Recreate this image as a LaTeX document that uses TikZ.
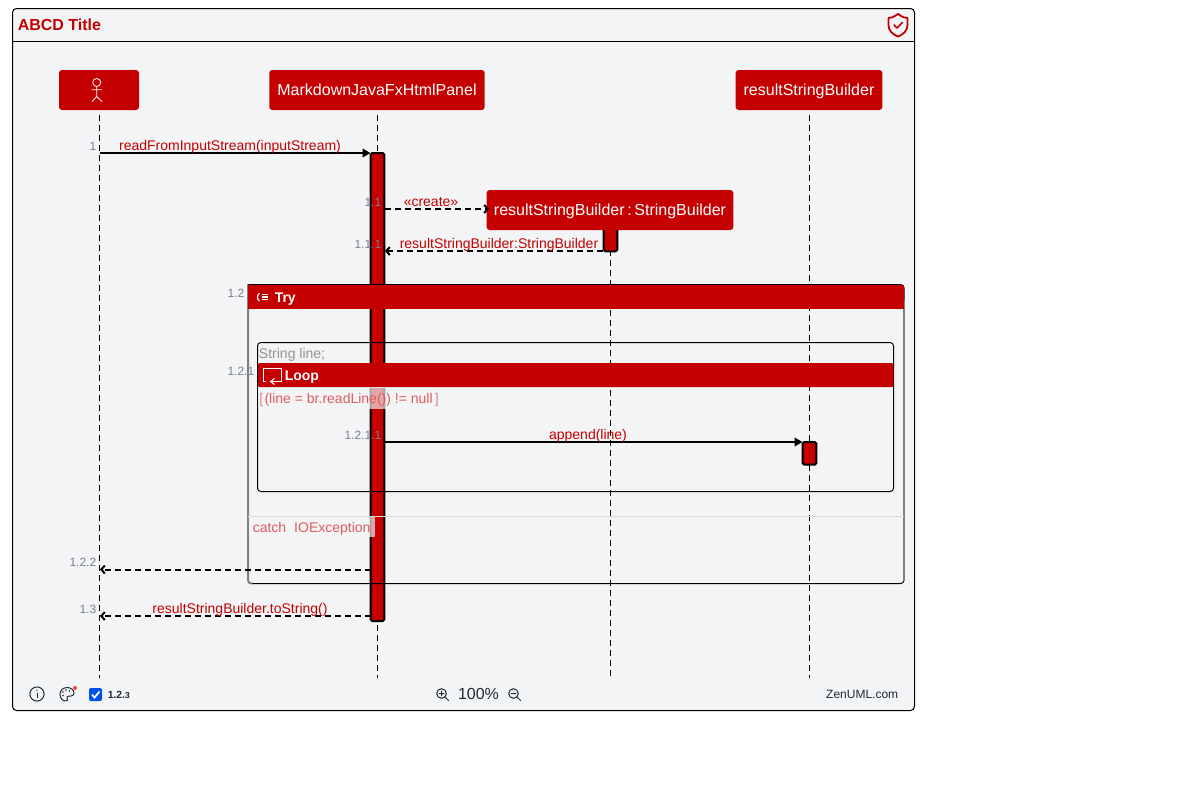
\documentclass[tikz,border=0pt]{standalone}
\usepackage{fontspec}
\setmainfont{Liberation Sans}
\usetikzlibrary{arrows.meta,calc}
\definecolor{zred}{HTML}{C40000}
\definecolor{zbg}{HTML}{F3F4F6}
\definecolor{znum}{HTML}{7B8090}
\definecolor{zfade}{HTML}{DE5C5C}
\definecolor{zink}{HTML}{1F2937}
\tikzset{
  x=0.75pt,y=-0.75pt,
  part/.style={fill=zred,rounded corners=2.25pt,text=white,inner sep=0,font=\fontsize{12}{14}\selectfont,text height=10.5pt,text depth=3pt},
  life/.style={black,line width=0.75pt,dash pattern=on 4.5pt off 3pt},
  activ/.style={fill=zred,draw=black,line width=1.5pt,rounded corners=1.2pt},
  syncm/.style={black,line width=1.5pt,-{Triangle[length=6pt,width=6.4pt]}},
  retm/.style={black,line width=1.5pt,dash pattern=on 4.5pt off 3pt,-{Straight Barb[length=2.6pt,width=6pt,line width=1.5pt]}},
  msg/.style={text=zred,inner sep=0,font=\fontsize{10.5}{12}\selectfont,text height=10.2pt,text depth=2.5pt},
  seqno/.style={text=znum,inner sep=0,anchor=east,font=\fontsize{9}{11}\selectfont,text height=8pt,text depth=2pt},
  head/.style={fill=zred,draw=none},
  headt/.style={text=white,inner sep=0,anchor=west,font=\bfseries\fontsize{10.5}{12}\selectfont,text height=10.2pt,text depth=2.5pt},
  cond/.style={text=zfade,inner sep=0,anchor=west,font=\fontsize{10.5}{12}\selectfont,text height=10.2pt,text depth=2.5pt},
  veil/.style={fill=zbg,opacity=0.68},
  uiline/.style={draw=zink,line width=0.75pt,line cap=round,line join=round},
}
\begin{document}
\begin{tikzpicture}
\useasboundingbox (0,0) rectangle (1200,800);
% outer frame
\fill[white] (0,0) rectangle (1200,800);
\node[draw=black,fill=zbg,line width=0.75pt,rounded corners=3pt,minimum width=676.5pt,minimum height=526.5pt,inner sep=0,outer sep=0,anchor=north west] (frame) at (12.5,8.5) {};
\coordinate (titleL) at (12.5,41.5);
\coordinate (titleR) at (914.5,41.5);
\draw[black,line width=0.75pt] (titleL) -- (titleR);
\node[anchor=west,inner sep=0,text=zred,font=\bfseries\fontsize{12}{14}\selectfont,text height=10.5pt,text depth=3pt] (title) at (17.5,25) {ABCD Title};
% shield
\draw[zred,line width=1.35pt,line join=round] (898,14) .. controls (893,17.5) and (891,18) .. (888.5,18) -- (888.5,25) .. controls (888.5,31) and (893,34.5) .. (898,36.5) .. controls (903,34.5) and (907.5,31) .. (907.5,25) -- (907.5,18) .. controls (905,18) and (903,17.5) .. (898,14) -- cycle;
\draw[zred,line width=1.3pt,line cap=round,line join=round] (894,25) -- (897,28) -- (902.5,22.5);
% lifelines
\coordinate (l1t) at (99.5,115);\coordinate (l1b) at (99.5,678);
\coordinate (l2t) at (377.5,115);\coordinate (l2b) at (377.5,678);
\coordinate (l3t) at (610.5,230);\coordinate (l3b) at (610.5,678);
\coordinate (l4t) at (809.5,115);\coordinate (l4b) at (809.5,678);
\draw[life] (l1t) -- (l1b);
\draw[life] (l2t) -- (l2b);
\draw[life] (l3t) -- (l3b);
\draw[life] (l4t) -- (l4b);
% participants
\node[part,minimum width=60pt,minimum height=30pt] (actor) at (99,90) {};
\node[part,minimum width=161.5pt,minimum height=30pt] (panel) at (377,90) {MarkdownJavaFxHtmlPanel};
\node[part,minimum width=110pt,minimum height=30pt] (rsb) at (809,90) {resultStringBuilder};
% stick figure
\draw[white,line width=0.6pt] (96.7,82.5) circle (4);
\draw[white,line width=0.6pt] (96.7,86.5) -- (96.7,96.5) (91.5,89.7) -- (102,89.7) (92,101.5) -- (96.7,96.5) -- (102,101.5);
% activations
\node[activ,minimum width=10.2pt,minimum height=351pt,inner sep=0,anchor=north] (a1) at (377.5,152) {};
\node[activ,minimum width=10.2pt,minimum height=19pt,inner sep=0,anchor=north] (a3) at (610.5,225) {};
\node[activ,minimum width=10.2pt,minimum height=17pt,inner sep=0,anchor=north] (a4) at (809.5,441) {};
% created participant
\node[part,minimum width=185pt,minimum height=30pt] (created) at (610,210) {resultStringBuilder\,:\,StringBuilder};
\coordinate (m2s) at (385,209);
\coordinate (m2e) at (489,209);
\draw[retm] (m2s) -- (m2e);
% messages
\coordinate (m1s) at (100,153);\coordinate (m1e) at (370.5,153);
\draw[syncm] (m1s) -- (m1e);
\node[msg] (m1) at (230,145) {readFromInputStream(inputStream)};
\node[seqno] (n1) at (96.5,146) {1};
\node[msg] (m2) at (431,201.5) {«create»};
\node[seqno] (n2) at (381.5,202) {1.1};
\coordinate (m3s) at (603,251);\coordinate (m3e) at (385,251);
\draw[retm] (m3s) -- (m3e);
\node[msg] (m3) at (499,243) {resultStringBuilder:StringBuilder};
\node[seqno] (n3) at (381.5,244) {1.1.1};
% try fragment
\draw[black,line width=0.75pt,rounded corners=2.5pt] (252,583.5) -- (904,583.5) -- (904,284.5) -- (247.5,284.5);
\draw[black!50,line width=1.5pt,rounded corners=2.5pt] (248,284.5) -- (248,583.5) -- (252,583.5);
\draw[black!50,line width=1pt] (904,300) -- (904,581);
\node[head,minimum width=491.7pt,minimum height=18pt,inner sep=0,outer sep=0,anchor=north west] (tryh) at (248.3,285) {};
\node[headt] (tryt) at (274.5,297) {Try};
\draw[white,line width=0.9pt] (259.5,293.3) .. controls (256.8,294.5) and (256.8,300) .. (259.5,301);
\draw[white,line width=1pt] (261.5,294.5) -- (268,294.5) (261.5,297) -- (268,297) (261.5,299.5) -- (268,299.5);
\node[seqno] (n4) at (244.5,293) {1.2};
% loop
\draw[black,line width=0.75pt,rounded corners=2.5pt] (257.5,491.5) rectangle (893.5,342.5);
\node[text=black!42,inner sep=0,anchor=west,font=\fontsize{10.5}{12}\selectfont,text height=10.2pt,text depth=2.5pt] (decl) at (258.7,353) {String line;};
\node[head,minimum width=476.6pt,minimum height=18pt,inner sep=0,outer sep=0,anchor=north west,rounded corners=1pt] (looph) at (258,363) {};
\node[headt] (loopt) at (284.5,375) {Loop};
\draw[white,line width=0.75pt] (266,381.5) -- (263,381.5) -- (263,368) -- (281.5,368) -- (281.5,381.5) -- (272,381.5);
\draw[white,line width=0.75pt] (274.5,378.5) -- (270.5,381.5) -- (274.5,384.5);
\node[seqno] (n5) at (254.5,371) {1.2.1};
% condition
\fill[veil] (258,388) rectangle (437,409);
\draw[white!85!black,line width=0.5pt] (258,387.5) -- (437,387.5);
\node[cond,opacity=0.75] (c1) at (259,398) {[};
\node[cond] (c2) at (264.3,398) {(line = br.readLine()) != null};
\node[cond,opacity=0.75] (c3) at (434.5,398) {]};
% append
\coordinate (m4s) at (385,442);\coordinate (m4e) at (802.5,442);
\draw[syncm] (m4s) -- (m4e);
\node[msg] (m4) at (588,434.5) {append(line)};
\node[seqno] (n6) at (381.5,435) {1.2.1.1};
% catch
\coordinate (cl) at (248,516.5);\coordinate (cr) at (904,516.5);
\draw[white!85!black,line width=0.75pt] (cl) -- (cr);
\fill[veil] (249,517) rectangle (375,537);
\node[cond] (c4) at (252.5,527) {catch\hspace{6pt}IOException};
% returns
\coordinate (r1s) at (370.5,569.5);\coordinate (r1e) at (100,569.5);
\draw[retm] (r1s) -- (r1e);
\node[seqno] (n7) at (96.5,562.5) {1.2.2};
\coordinate (r2s) at (370.5,616);\coordinate (r2e) at (100,616);
\draw[retm] (r2s) -- (r2e);
\node[msg] (m5) at (240,608.5) {resultStringBuilder.toString()};
\node[seqno] (n8) at (96.5,609.5) {1.3};
% footer
\draw[uiline] (37,694) circle (7.1);
\draw[uiline] (37,693) -- (37,697.5);
\fill[zink] (37,690.5) circle (0.65);
\draw[uiline] (67,687.5) .. controls (62.5,687.5) and (60,691) .. (60,694.5) .. controls (60,698.5) and (63,701) .. (66,701) .. controls (68,701) and (68,699.5) .. (67.2,698.5) .. controls (66.5,697) and (67.5,696) .. (69,696) -- (71,696) .. controls (73,696) and (74,694.5) .. (74,693) .. controls (74,690) and (71,687.5) .. (67,687.5) -- cycle;
\fill[zink] (63,692) circle (0.9) (66,690) circle (0.9) (69.5,691) circle (0.9) (63,695.5) circle (0.9);
\fill[red!75!white] (75,688) circle (2);
\fill[blue!65!cyan!90!black,rounded corners=1.5pt] (89,688) rectangle (102,701);
\draw[white,line width=1.3pt] (92,694.5) -- (94.5,697.5) -- (99.5,691.5);
\node[anchor=west,inner sep=0,text=zink,font=\bfseries\fontsize{7.8}{10}\selectfont] (seqt) at (107.5,694.5) {1.2.{\fontsize{6.4}{8}\selectfont 3}};
\draw[uiline] (441.5,693.5) circle (4.8);
\draw[uiline] (445,697) -- (448.5,700.5) (439.2,693.5) -- (443.8,693.5) (441.5,691.2) -- (441.5,695.8);
\node[inner sep=0,text=zink,font=\fontsize{12}{14}\selectfont] (zoom) at (478.5,693.5) {100\%};
\draw[uiline] (513.5,693.5) circle (4.8);
\draw[uiline] (517,697) -- (520.5,700.5) (511.2,693.5) -- (515.8,693.5);
\node[anchor=east,inner sep=0,text=zink,font=\fontsize{9}{11}\selectfont] (zen) at (898.5,694) {ZenUML.com};
\end{tikzpicture}
\end{document}
